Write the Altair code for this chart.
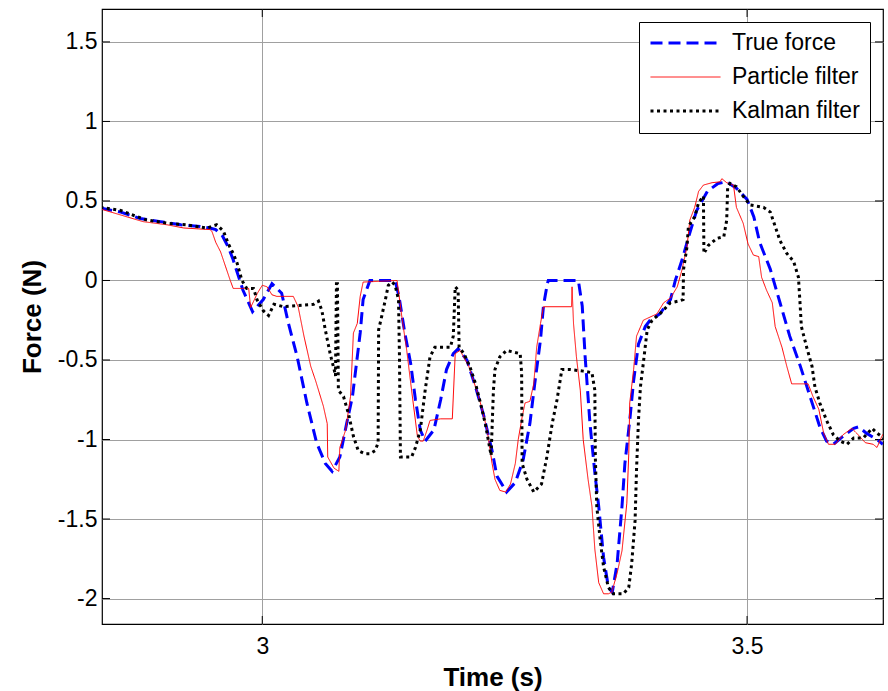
import altair as alt
import pandas as pd

# ---------------- data ----------------
series_names = ["True force", "Particle filter", "Kalman filter"]
series_colors = ["#0000ff", "#ff0000", "#000000"]
series_dash = [[12, 6], [1, 0], [3, 3.5]]
series_width = [3, 1, 3]

x_ticks = [3.0, 3.5]
y_ticks = [-2, -1.5, -1, -0.5, 0, 0.5, 1, 1.5]

t_true = [2.833, 2.854, 2.874, 2.895, 2.916, 2.936, 2.946, 2.952, 2.959, 2.965,
          2.970, 2.980, 2.990, 3.001, 3.010, 3.020, 3.027, 3.036, 3.046, 3.056,
          3.065, 3.072, 3.080, 3.087, 3.093, 3.098, 3.101, 3.104, 3.111, 3.137,
          3.141, 3.147, 3.153, 3.158, 3.163, 3.168, 3.177, 3.184, 3.190, 3.197,
          3.202, 3.211, 3.220, 3.228, 3.237, 3.242, 3.252, 3.261, 3.269, 3.276,
          3.281, 3.287, 3.290, 3.294, 3.295, 3.326, 3.330, 3.333, 3.338, 3.343,
          3.347, 3.352, 3.357, 3.361, 3.366, 3.371, 3.374, 3.379, 3.383, 3.388,
          3.395, 3.400, 3.410, 3.421, 3.426, 3.433, 3.440, 3.448, 3.459, 3.470,
          3.479, 3.489, 3.500, 3.507, 3.513, 3.524, 3.534, 3.544, 3.555, 3.565,
          3.575, 3.582, 3.589, 3.599, 3.610, 3.615, 3.623, 3.634, 3.640]
f_true = [0.456, 0.43, 0.39, 0.37, 0.35, 0.34, 0.33, 0.32, 0.28, 0.21,
          0.13, -0.06, -0.196, -0.12, -0.02, -0.08, -0.27, -0.48, -0.77, -1.02,
          -1.15, -1.20, -1.11, -0.90, -0.73, -0.48, -0.33, -0.12, 0.0, 0.0,
          -0.10, -0.33, -0.52, -0.75, -0.94, -1.01, -0.94, -0.75, -0.56, -0.46,
          -0.43, -0.50, -0.67, -0.84, -1.07, -1.23, -1.33, -1.27, -1.13, -0.90,
          -0.65, -0.37, -0.16, -0.02, 0.0, 0.0, -0.16, -0.48, -0.90, -1.21,
          -1.42, -1.74, -1.93, -1.96, -1.78, -1.42, -1.15, -0.88, -0.63, -0.40,
          -0.29, -0.25, -0.21, -0.12, 0.0, 0.13, 0.28, 0.44, 0.56, 0.61,
          0.62, 0.58, 0.51, 0.40, 0.24, 0.07, -0.14, -0.35, -0.54, -0.73,
          -0.92, -1.01, -1.03, -0.98, -0.93, -0.92, -0.96, -1.00, -1.03]

t_pf = [2.833, 2.877, 2.902, 2.919, 2.946, 2.948, 2.952, 2.957, 2.962, 2.967,
        2.970, 2.986, 2.988, 2.995, 3.000, 3.005, 3.010, 3.015, 3.032, 3.037,
        3.043, 3.050, 3.055, 3.058, 3.063, 3.067, 3.0675, 3.074, 3.079, 3.080,
        3.086, 3.091, 3.094, 3.098, 3.101, 3.104, 3.139, 3.144, 3.149, 3.154,
        3.160, 3.163, 3.166, 3.170, 3.173, 3.184, 3.196, 3.199, 3.204, 3.213,
        3.220, 3.225, 3.232, 3.237, 3.240, 3.245, 3.251, 3.256, 3.261, 3.264,
        3.268, 3.271, 3.276, 3.280, 3.283, 3.287, 3.290, 3.319, 3.3195, 3.321,
        3.324, 3.328, 3.331, 3.336, 3.340, 3.343, 3.347, 3.352, 3.357, 3.3605,
        3.366, 3.371, 3.376, 3.378, 3.379, 3.383, 3.386, 3.393, 3.400, 3.407,
        3.414, 3.421, 3.428, 3.433, 3.438, 3.441, 3.446, 3.450, 3.455, 3.464,
        3.472, 3.474, 3.479, 3.486, 3.489, 3.496, 3.501, 3.5065, 3.512, 3.515,
        3.520, 3.526, 3.529, 3.536, 3.541, 3.546, 3.563, 3.568, 3.574, 3.579,
        3.584, 3.591, 3.599, 3.608, 3.613, 3.622, 3.630, 3.634, 3.639, 3.642]
f_pf = [0.45, 0.37, 0.35, 0.33, 0.32, 0.31, 0.24, 0.18, 0.09, 0.0,
        -0.05, -0.05, -0.17, -0.08, -0.03, -0.04, -0.09, -0.10, -0.10, -0.165,
        -0.35, -0.54, -0.63, -0.69, -0.79, -0.90, -1.11, -1.18, -1.20, -1.05,
        -0.94, -0.73, -0.33, -0.27, -0.10, -0.01, 0.0, -0.23, -0.44, -0.69,
        -0.98, -1.01, -1.01, -0.94, -0.88, -0.87, -0.87, -0.46, -0.44, -0.54,
        -0.67, -0.77, -0.94, -1.15, -1.25, -1.32, -1.33, -1.28, -1.15, -1.00,
        -0.86, -0.77, -0.76, -0.65, -0.42, -0.27, -0.165, -0.165, -0.04, -0.27,
        -0.48, -0.69, -1.00, -1.25, -1.42, -1.69, -1.90, -1.97, -1.97, -1.96,
        -1.84, -1.70, -1.40, -1.09, -0.77, -0.56, -0.35, -0.25, -0.23, -0.21,
        -0.14, -0.11, -0.04, 0.07, 0.21, 0.38, 0.46, 0.56, 0.60, 0.615,
        0.62, 0.64, 0.615, 0.60, 0.46, 0.36, 0.23, 0.16, 0.15, 0.02,
        -0.06, -0.14, -0.29, -0.42, -0.54, -0.65, -0.65, -0.73, -0.81, -0.96,
        -1.03, -1.03, -0.97, -0.93, -0.96, -1.02, -1.03, -1.05, -0.98, -0.95]

t_kf = [2.833, 2.854, 2.867, 2.881, 2.902, 2.922, 2.943, 2.953, 2.960, 2.965,
        2.970, 2.974, 2.979, 2.984, 2.991, 2.9945, 3.001, 3.0065, 3.012, 3.022,
        3.053, 3.058, 3.0615, 3.065, 3.070, 3.0745, 3.0755, 3.0765, 3.0775, 3.0785,
        3.0838, 3.089, 3.094, 3.099, 3.106, 3.111, 3.1165, 3.1195, 3.1200, 3.123,
        3.127, 3.130, 3.134, 3.137, 3.1405, 3.1415, 3.1425, 3.147, 3.154, 3.158,
        3.163, 3.168, 3.173, 3.178, 3.194, 3.197, 3.199, 3.202, 3.203, 3.208,
        3.214, 3.220, 3.225, 3.230, 3.236, 3.2384, 3.240, 3.245, 3.252, 3.259,
        3.266, 3.2675, 3.268, 3.273, 3.280, 3.288, 3.2935, 3.299, 3.304, 3.309,
        3.3175, 3.331, 3.340, 3.343, 3.3435, 3.345, 3.3485, 3.352, 3.357, 3.362,
        3.3725, 3.378, 3.381, 3.3845, 3.386, 3.388, 3.390, 3.393, 3.397, 3.402,
        3.410, 3.421, 3.429, 3.434, 3.4345, 3.438, 3.4395, 3.446, 3.450, 3.455,
        3.4555, 3.460, 3.469, 3.476, 3.479, 3.480, 3.4825, 3.489, 3.496, 3.503,
        3.517, 3.524, 3.529, 3.534, 3.541, 3.548, 3.553, 3.5546, 3.556, 3.5615,
        3.567, 3.570, 3.575, 3.582, 3.589, 3.596, 3.603, 3.610, 3.620, 3.629,
        3.634, 3.641]
f_kf = [0.46, 0.44, 0.41, 0.38, 0.36, 0.35, 0.33, 0.35, 0.31, 0.23,
        0.17, 0.11, 0.0, -0.05, -0.05, -0.12, -0.19, -0.22, -0.15, -0.165,
        -0.15, -0.13, -0.19, -0.31, -0.46, -0.57, -0.60, -0.02, -0.02, -0.69,
        -0.73, -0.84, -0.98, -1.07, -1.09, -1.09, -1.07, -1.02, -0.31, -0.23,
        -0.12, -0.03, -0.01, -0.03, -0.12, -0.48, -1.11, -1.11, -1.11, -1.05,
        -0.94, -0.69, -0.48, -0.42, -0.42, -0.35, -0.04, -0.06, -0.42, -0.46,
        -0.54, -0.65, -0.77, -0.90, -1.10, -0.69, -0.56, -0.48, -0.44, -0.45,
        -0.46, -0.58, -1.15, -1.25, -1.33, -1.28, -1.11, -0.90, -0.75, -0.56,
        -0.56, -0.57, -0.58, -0.69, -1.11, -1.42, -1.63, -1.80, -1.93, -1.97,
        -1.97, -1.93, -1.78, -1.51, -1.19, -0.88, -0.67, -0.52, -0.31, -0.25,
        -0.21, -0.14, -0.13, -0.12, 0.07, 0.21, 0.34, 0.40, 0.49, 0.53,
        0.17, 0.22, 0.265, 0.275, 0.38, 0.59, 0.61, 0.59, 0.53, 0.475,
        0.46, 0.43, 0.34, 0.25, 0.17, 0.12, 0.02, -0.14, -0.29, -0.42,
        -0.54, -0.67, -0.77, -0.88, -0.97, -1.01, -1.03, -0.99, -0.99, -0.93,
        -0.96, -0.99]

x_domain = [2.8347, 3.6402]
y_domain = [-2.16, 1.707]

# ---------------- chart ----------------
W, H = 781, 615
FONT = "Liberation Sans"


def frame(t, f, name):
    return pd.DataFrame({"time": t, "force": f, "series": name})


x_enc = alt.X(
    "time:Q",
    scale=alt.Scale(domain=x_domain, nice=False, zero=False),
    axis=alt.Axis(values=x_ticks, title="Time (s)", labelExpr="'' + datum.value",
                  grid=True, ticks=False, tickSize=0, domain=False,
                  labelFontSize=23, titleFontSize=26, titleFontWeight="bold",
                  labelPadding=11, titlePadding=6),
)
y_enc = alt.Y(
    "force:Q",
    scale=alt.Scale(domain=y_domain, nice=False, zero=False),
    axis=alt.Axis(values=y_ticks, title="Force (N)", labelExpr="'' + datum.value",
                  grid=True, ticks=False, tickSize=0, domain=False,
                  labelFontSize=23, titleFontSize=26, titleFontWeight="bold",
                  labelPadding=5, titlePadding=12),
)

leg = alt.Legend(title=None, orient="none", legendX=537, legendY=13)
color_enc = alt.Color("series:N", scale=alt.Scale(domain=series_names, range=series_colors), legend=leg)
dash_enc = alt.StrokeDash("series:N", scale=alt.Scale(domain=series_names, range=series_dash), legend=leg)
width_enc = alt.StrokeWidth("series:N",
                            scale=alt.Scale(type="ordinal", domain=series_names, range=series_width),
                            legend=leg)


def line_layer(t, f, name):
    return alt.Chart(frame(t, f, name)).mark_line(clip=True, strokeCap="butt").encode(
        x=x_enc, y=y_enc, color=color_enc, strokeDash=dash_enc, strokeWidth=width_enc,
        order=alt.Order("time:Q"),
    )


lines = [
    line_layer(t_true, f_true, series_names[0]),
    line_layer(t_pf, f_pf, series_names[1]),
    line_layer(t_kf, f_kf, series_names[2]),
]

ydf = pd.DataFrame({"force": y_ticks})
xdf = pd.DataFrame({"time": x_ticks})
tick_left = alt.Chart(ydf).mark_rule(color="black", strokeWidth=1).encode(
    y=y_enc, x=alt.value(0), x2=alt.value(8))
tick_right = alt.Chart(ydf).mark_rule(color="black", strokeWidth=1).encode(
    y=y_enc, x=alt.value(W - 8), x2=alt.value(W))
tick_bottom = alt.Chart(xdf).mark_rule(color="black", strokeWidth=1).encode(
    x=x_enc, y=alt.value(H - 8), y2=alt.value(H))
tick_top = alt.Chart(xdf).mark_rule(color="black", strokeWidth=1).encode(
    x=x_enc, y=alt.value(0), y2=alt.value(8))

chart = (
    alt.layer(tick_left, tick_right, tick_bottom, tick_top, *lines)
    .properties(
        width=W, height=H,
        autosize=alt.AutoSizeParams(type="none"),
        padding={"left": 102, "top": 9, "right": 5, "bottom": 67},
        background="white",
    )
    .configure(font=FONT)
    .configure_view(stroke="black", strokeWidth=1.2)
    .configure_axis(gridColor="#a0a0a0", gridWidth=1, labelColor="black", titleColor="black",
                    labelFont=FONT, titleFont=FONT)
    .configure_legend(
        orient="none", legendX=537, legendY=13, padding=10,
        strokeColor="black", fillColor="white", cornerRadius=0,
        symbolType="stroke", symbolSize=4900, clipHeight=22,
        labelFontSize=23, labelFont=FONT,
        labelColor="black", rowPadding=11, labelOffset=10, labelLimit=300,
    )
)

chart.save("out.html", embed_options={"renderer": "svg", "actions": False})
